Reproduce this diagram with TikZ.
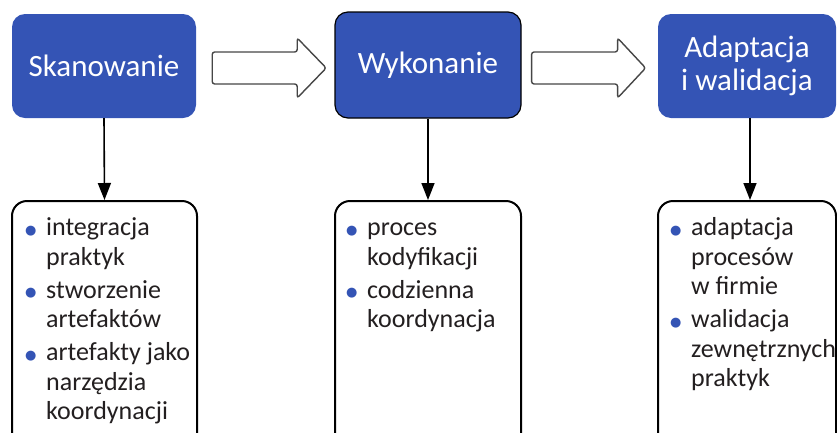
\documentclass[tikz,border=0pt]{standalone}
\usepackage{fontspec}
\setmainfont{Carlito}
\newfontfamily\symfont{DejaVu Sans}
\usetikzlibrary{arrows.meta}
\definecolor{boxblue}{RGB}{52,84,181}
\definecolor{txt}{RGB}{35,31,32}
\definecolor{arrgray}{RGB}{70,70,70}
% blue list bullet followed by the text indent
\newcommand{\blt}{\makebox[20pt][l]{\hspace*{-1pt}\raisebox{1.5pt}{\symfont\fontsize{13}{13}\selectfont\textcolor{boxblue}{●}}}}
\newcommand{\cnt}{\hspace*{20pt}}
\begin{document}
\begin{tikzpicture}[x=1pt,y=-1pt,
  head/.style={rectangle, rounded corners=13pt, fill=boxblue, text=white,
    font=\fontsize{31}{33}\selectfont, align=center, inner sep=0pt},
  listbox/.style={rectangle, draw=black, line width=2pt, rounded corners=15pt, fill=white, inner sep=0pt},
  listtext/.style={anchor=north west, inner sep=0pt, text=txt, font=\fontsize{26}{29.5}\selectfont},
  down/.style={line width=1.6pt, -{Triangle[length=17pt,width=13pt]}},
  hollow/.style={draw=arrgray, line width=1.4pt, fill=white, rounded corners=2.5pt}]
\useasboundingbox (0,0) rectangle (837,432);

% phase headers
\node[head, minimum width=184pt, minimum height=104pt] (s1) at (104,66) {Skanowanie};
\node[head, draw=black, line width=1.2pt, minimum width=186pt, minimum height=106pt] (s2) at (428,65) {Wykonanie\vphantom{p}};
\node[head, minimum width=178pt, minimum height=104pt] (s3) at (747,66) {Adaptacja\\i walidacja};

% detail boxes (running past the lower edge)
\node[listbox, anchor=north, minimum width=185pt, minimum height=260pt] (l1) at (104.5,200) {};
\node[listbox, anchor=north, minimum width=186pt, minimum height=260pt] (l2) at (428,200) {};
\node[listbox, anchor=north, minimum width=178pt, minimum height=260pt] (l3) at (747,200) {};

% hollow block arrows between the phases
\draw[hollow] ([shift={(16,2)}]s1.east) ++(0,-16) -- ++(85,0) -- ++(0,-14) -- ++(29,30)
  -- ++(-29,30) -- ++(0,-14) -- ++(-85,0) -- cycle;
\draw[hollow] ([shift={(10,3)}]s2.east) ++(0,-16) -- ++(86,0) -- ++(0,-14) -- ++(28,30)
  -- ++(-28,30) -- ++(0,-14) -- ++(-86,0) -- cycle;

% connectors
\draw[down] (s1.south) -- (l1.north);
\draw[down] (s2.south) -- (l2.north);
\draw[down] ([xshift=3pt]s3.south) -- ([xshift=3pt]l3.north);

% bullet lists
\node[listtext] (t1) at ([shift={(15,15)}]l1.north west) {%
  \begin{tabular}{@{}l@{}}
  \blt integracja\\
  \cnt praktyk\\[3.5pt]
  \blt stworzenie\\
  \cnt artefaktów\\[3.5pt]
  \blt artefakty jako\\
  \cnt narzędzia\\
  \cnt koordynacji
  \end{tabular}};
\node[listtext] (t2) at ([shift={(13,15)}]l2.north west) {%
  \begin{tabular}{@{}l@{}}
  \blt proces\\
  \cnt kodyfikacji\\[3.5pt]
  \blt codzienna\\
  \cnt koordynacja
  \end{tabular}};
\node[listtext] (t3) at ([shift={(14,15)}]l3.north west) {%
  \begin{tabular}{@{}l@{}}
  \blt adaptacja\\
  \cnt procesów\\
  \cnt w firmie\\[3.5pt]
  \blt walidacja\\
  \cnt zewnętrznych\\
  \cnt praktyk
  \end{tabular}};
\end{tikzpicture}
\end{document}
